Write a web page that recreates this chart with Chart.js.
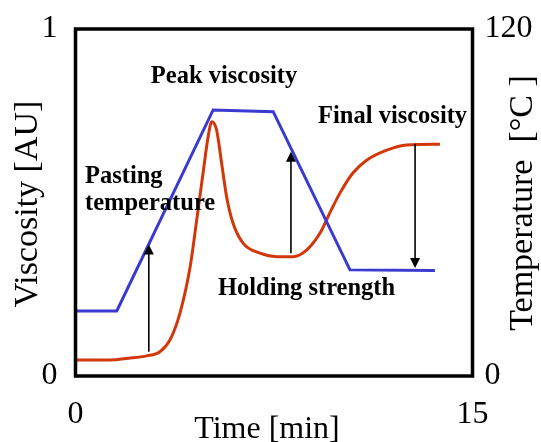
<!DOCTYPE html>
<html>
<head>
<meta charset="utf-8">
<script src="https://cdn.jsdelivr.net/npm/chart.js@4"></script>
<style>
  html, body { margin: 0; padding: 0; background: #fff; }
  canvas { display: block; }
</style>
</head>
<body>
<canvas id="rvaChart" width="541" height="442"></canvas>
<script>
// axis ranges / tick labels
const timeTicks = [0, 15];
const viscosityTicks = [0, 1];
const temperatureTicks = [0, 120];

// temperature program (°C vs min)
const tempTimes = [0, 1.56, 5.2, 7.47, 10.37, 13.58];
const tempValues = [22.5, 22.5, 92, 91.4, 36.7, 36.5];

// viscosity trace (AU vs min)
const viscTimes = [0, 1.30, 2.0, 2.69, 3.19, 3.57, 3.95, 4.33, 4.58, 4.82, 5.01, 5.15, 5.33,
  5.52, 5.71, 5.95, 6.33, 6.97, 7.60, 8.22, 8.73, 9.24, 9.61, 9.99, 10.48, 11.00, 11.76, 12.51, 13.77];
const viscValues = [0.046, 0.046, 0.051, 0.058, 0.070, 0.104, 0.182, 0.314, 0.450, 0.585, 0.689, 0.733, 0.709,
  0.614, 0.516, 0.441, 0.383, 0.354, 0.344, 0.344, 0.363, 0.412, 0.470, 0.527, 0.585, 0.622, 0.651, 0.666, 0.668];

// marker arrows (time, from -> to, in viscosity units)
const arrowTimes = [2.77, 8.14, 12.83];
const arrowFrom = [0.070, 0.354, 0.669];
const arrowTo = [0.379, 0.646, 0.311];

const serif = '"Liberation Serif", "Times New Roman", serif';

// text notes anchored in data coordinates
const notes = [
  { text: 'Peak viscosity', t: 5.61, v: 0.843, align: 'center' },
  { text: 'Final viscosity', t: 11.98, v: 0.728, align: 'center' },
  { text: 'Holding strength', t: 8.73, v: 0.233, align: 'center' },
  { text: 'Pasting', t: 0.36, v: 0.557, align: 'left' },
  { text: 'temperature', t: 0.36, v: 0.478, align: 'left' },
];

const overlay = {
  id: 'overlay',
  afterDatasetsDraw(chart) {
    const { ctx, chartArea: a, scales: { x, y } } = chart;
    ctx.save();
    ctx.strokeStyle = '#000';
    ctx.fillStyle = '#000';

    // frame
    ctx.lineWidth = 3.5;
    ctx.strokeRect(a.left, a.top, a.right - a.left, a.bottom - a.top);

    // arrows
    arrowTimes.forEach((t, i) => {
      const px = x.getPixelForValue(t);
      const y0 = y.getPixelForValue(arrowFrom[i]);
      const y1 = y.getPixelForValue(arrowTo[i]);
      const dir = Math.sign(y1 - y0);
      ctx.lineWidth = 1.6;
      ctx.beginPath();
      ctx.moveTo(px, y0);
      ctx.lineTo(px, y1 - dir * 8);
      ctx.stroke();
      ctx.beginPath();
      ctx.moveTo(px, y1);
      ctx.lineTo(px - 5, y1 - dir * 10);
      ctx.lineTo(px + 5, y1 - dir * 10);
      ctx.closePath();
      ctx.fill();
    });

    // notes
    ctx.font = 'bold 24.5px ' + serif;
    ctx.textBaseline = 'alphabetic';
    notes.forEach(n => {
      ctx.textAlign = n.align;
      ctx.fillText(n.text, x.getPixelForValue(n.t), y.getPixelForValue(n.v));
    });

    // axis titles
    ctx.textAlign = 'center';
    ctx.textBaseline = 'middle';
    ctx.font = '34px ' + serif;
    ctx.save();
    ctx.translate(28, 204);
    ctx.rotate(-Math.PI / 2);
    ctx.fillText('Viscosity [AU]', 0, 0);
    ctx.restore();
    ctx.save();
    ctx.translate(523, 203);
    ctx.rotate(-Math.PI / 2);
    ctx.fillText('Temperature  [\u00B0C ]', 0, 0);
    ctx.restore();
    ctx.font = '32px ' + serif;
    ctx.textBaseline = 'alphabetic';
    ctx.fillText('Time [min]', 267, 438);

    ctx.restore();
  }
};

const tickFont = { family: serif, size: 32 };

// fixed-width side axes; drop the label overhang padding so the frame sits where set
function fixSide(width) {
  return s => {
    s.width = width;
    s.paddingTop = 0;
    s.paddingBottom = 0;
  };
}

new Chart(document.getElementById('rvaChart'), {
  type: 'line',
  data: {
    datasets: [
      {
        label: 'Temperature',
        data: tempTimes.map((t, i) => ({ x: t, y: tempValues[i] })),
        yAxisID: 'y1',
        borderColor: 'rgb(58, 58, 208)',
        borderWidth: 3,
        pointRadius: 0,
        tension: 0,
      },
      {
        label: 'Viscosity',
        data: viscTimes.map((t, i) => ({ x: t, y: viscValues[i] })),
        yAxisID: 'y',
        borderColor: 'rgb(210, 55, 10)',
        borderWidth: 3,
        pointRadius: 0,
        cubicInterpolationMode: 'monotone',
      },
    ],
  },
  options: {
    responsive: false,
    animation: false,
    devicePixelRatio: 1,
    layout: { padding: { top: 29, left: 0, right: 0, bottom: 0 } },
    plugins: { legend: { display: false }, tooltip: { enabled: false } },
    scales: {
      x: {
        type: 'linear',
        min: timeTicks[0],
        max: timeTicks[1],
        grid: { display: false, drawTicks: false },
        border: { display: false },
        ticks: { font: tickFont, color: '#000', padding: 19, maxRotation: 0, callback: v => v },
        afterBuildTicks: s => { s.ticks = timeTicks.map(v => ({ value: v })); },
        afterFit: s => { s.height = 66; s.paddingLeft = 0; s.paddingRight = 0; },
      },
      y: {
        position: 'left',
        min: viscosityTicks[0],
        max: viscosityTicks[1],
        grid: { display: false, drawTicks: false },
        border: { display: false },
        ticks: { font: tickFont, color: '#000', padding: 18, callback: v => v },
        afterBuildTicks: s => { s.ticks = viscosityTicks.map(v => ({ value: v })); },
        afterFit: fixSide(75.5),
      },
      y1: {
        position: 'right',
        min: temperatureTicks[0],
        max: temperatureTicks[1],
        grid: { display: false, drawTicks: false },
        border: { display: false },
        ticks: { font: tickFont, color: '#000', padding: 12, callback: v => v },
        afterBuildTicks: s => { s.ticks = temperatureTicks.map(v => ({ value: v })); },
        afterFit: fixSide(68.5),
      },
    },
  },
  plugins: [overlay],
});
</script>
</body>
</html>
